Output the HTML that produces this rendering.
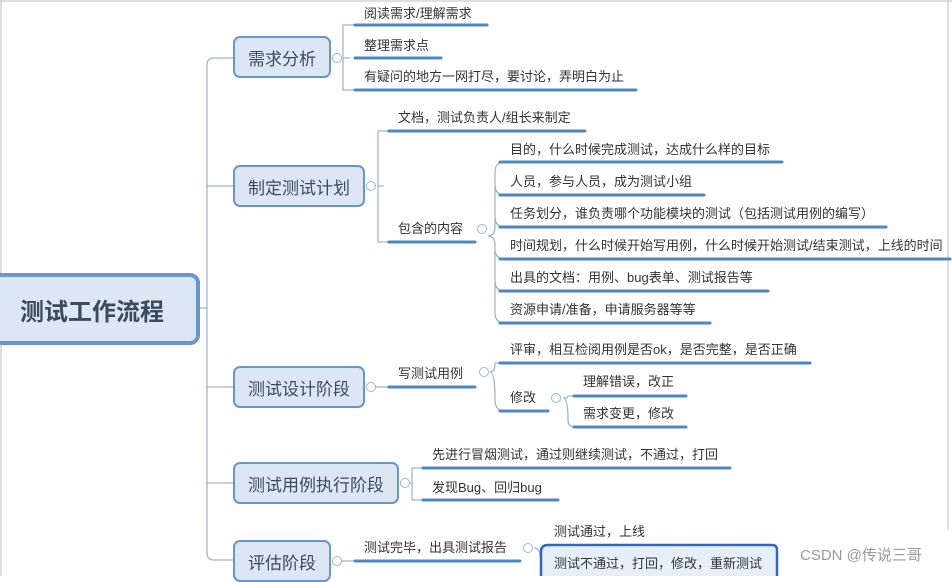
<!DOCTYPE html>
<html><head><meta charset="utf-8"><style>
body{margin:0;width:952px;height:576px;overflow:hidden;background:#fff;position:relative;font-family:"Liberation Sans","Noto Sans CJK SC",sans-serif}
.t{position:absolute;font-size:13px;color:#333;white-space:nowrap;line-height:16px}
.b{position:absolute;box-sizing:border-box;border:2px solid #6b95cf;background:#dde7f4;border-radius:7px;color:#3c4a5e;font-size:17px;display:flex;align-items:center;justify-content:center}
</style></head><body>
<svg width="952" height="576" style="position:absolute;left:0;top:0">
<g fill="none" stroke="#9db5d6" stroke-width="1.3">
<path d="M233 58 H214 Q207 58 207 65 V553 Q207 560 214 560 H233"/>
<path d="M199 308 H207 M207 186 H233 M207 387 H233 M207 483 H233"/>
<path d="M350 58 H343 M354 25 H343 V90 H354"/>
<path d="M384 186 H378 M388 131 H378 V242 H388"/>
<path d="M488 236 Q495 236 495 226 V172 Q495 162 505 162 M495 185 Q495 195 505 195 M495 217 Q495 227 505 227 M488 236 Q495 236 495 246 V313 Q495 323 505 323 M495 249 Q495 259 505 259 M495 281 Q495 291 505 291"/>
<path d="M371 387 H388 M490 372 Q495 372 495 363 H505 M490 372 Q495 372 495 400 Q495 411 505 411"/>
<path d="M563 398 Q568 398 568 396 H575 M563 398 Q568 398 568 420 Q568 427 575 427"/>
<path d="M405 483 H412 M422 468 H412 V500 H422"/>
<path d="M337 561 H354 M534 548 Q540 548 540 556"/>
<path d="M0 1 H952 M948 0 V530 M1 0 V576" stroke="#ccc"/>
</g>
<g fill="#fff" stroke="#9db5d6" stroke-width="1"><circle cx="337" cy="58" r="4.5"/><circle cx="371" cy="186" r="4.5"/><circle cx="482" cy="229" r="4.5"/><circle cx="371" cy="387" r="4.5"/><circle cx="484" cy="372" r="4.5"/><circle cx="556" cy="398" r="4.5"/><circle cx="405" cy="483" r="4.5"/><circle cx="337" cy="561" r="4.5"/><circle cx="528" cy="548" r="4.5"/></g>
<g stroke="#4f86c6" stroke-width="3" stroke-linecap="round">
<path d="M355 25 H487 M355 58 H441 M355 90 H636 M389 131 H585 M389 242 H475 M500 162 H782 M500 195 H704 M500 227 H886 M500 259 H950 M500 291 H768 M500 323 H710 M389 387 H475 M500 363 H810 M500 411 H548 M574 396 H686 M574 427 H686 M423 468 H730 M423 500 H558 M355 561 H520"/>
</g>
<path d="M777 576 V550 Q777 545 772 545 H548 Q541 545 541 552 V576" fill="#e6eef8" stroke="#3a66b8" stroke-width="2.5"/>
</svg>
<div class="b" style="left:-10px;top:273px;width:210px;height:72px;border-width:4px;border-radius:10px;font-size:24px;font-weight:bold;justify-content:flex-start;padding-left:26px">测试工作流程</div>
<div class="b" style="left:233px;top:36px;width:98px;height:42px">需求分析</div>
<div class="b" style="left:233px;top:165px;width:132px;height:42px">制定测试计划</div>
<div class="b" style="left:233px;top:366px;width:132px;height:42px">测试设计阶段</div>
<div class="b" style="left:233px;top:462px;width:166px;height:42px">测试用例执行阶段</div>
<div class="b" style="left:233px;top:540px;width:98px;height:42px">评估阶段</div>
<div class="t" style="left:364px;top:6px">阅读需求/理解需求</div>
<div class="t" style="left:364px;top:38px">整理需求点</div>
<div class="t" style="left:364px;top:69px">有疑问的地方一网打尽，要讨论，弄明白为止</div>
<div class="t" style="left:398px;top:110px">文档，测试负责人/组长来制定</div>
<div class="t" style="left:398px;top:221px">包含的内容</div>
<div class="t" style="left:510px;top:142px">目的，什么时候完成测试，达成什么样的目标</div>
<div class="t" style="left:510px;top:174px">人员，参与人员，成为测试小组</div>
<div class="t" style="left:510px;top:206px">任务划分，谁负责哪个功能模块的测试（包括测试用例的编写）</div>
<div class="t" style="left:510px;top:238px">时间规划，什么时候开始写用例，什么时候开始测试/结束测试，上线的时间</div>
<div class="t" style="left:510px;top:270px">出具的文档：用例、bug表单、测试报告等</div>
<div class="t" style="left:510px;top:302px">资源申请/准备，申请服务器等等</div>
<div class="t" style="left:398px;top:366px">写测试用例</div>
<div class="t" style="left:510px;top:342px">评审，相互检阅用例是否ok，是否完整，是否正确</div>
<div class="t" style="left:510px;top:390px">修改</div>
<div class="t" style="left:583px;top:374px">理解错误，改正</div>
<div class="t" style="left:583px;top:406px">需求变更，修改</div>
<div class="t" style="left:432px;top:447px">先进行冒烟测试，通过则继续测试，不通过，打回</div>
<div class="t" style="left:432px;top:480px">发现Bug、回归bug</div>
<div class="t" style="left:364px;top:540px">测试完毕，出具测试报告</div>
<div class="t" style="left:554px;top:524px">测试通过，上线</div>
<div class="t" style="left:554px;top:556px">测试不通过，打回，修改，重新测试</div>
<div class="t" style="left:800px;top:548px;font-size:15px;color:#999">CSDN @传说三哥</div>
</body></html>
